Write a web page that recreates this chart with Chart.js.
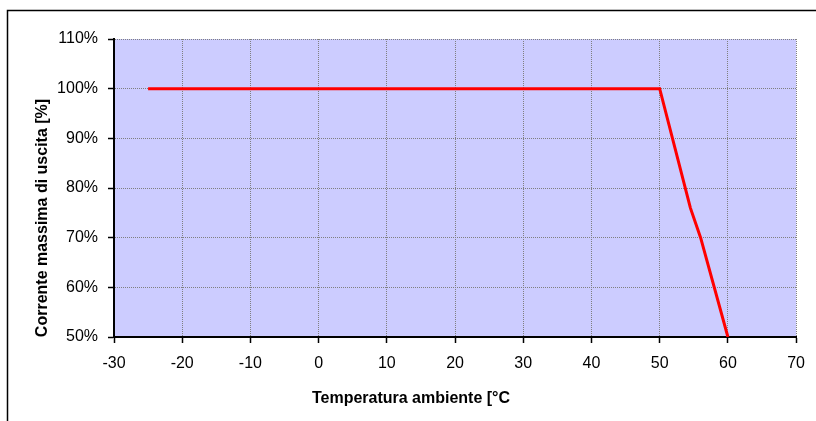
<!DOCTYPE html>
<html>
<head>
<meta charset="utf-8">
<script src="https://cdn.jsdelivr.net/npm/chart.js@4"></script>
<style>
    html, body { margin: 0; padding: 0; background: #ffffff; }
    #wrap { width: 816px; height: 421px; }
</style>
</head>
<body>
<div id="wrap"><canvas id="derating"></canvas></div>
<script>
// Derating curve: ambient temperature vs max output current
const temperature = [-25, 50, 54.5, 56, 60];
const currentPct = [100, 100, 76, 70, 50];
const xTickValues = [-30, -20, -10, 0, 10, 20, 30, 40, 50, 60, 70];
const yTickValues = [50, 60, 70, 80, 90, 100, 110];
const xTitle = "Temperatura ambiente [°C";
const yTitle = "Corrente massima di uscita [%]";

const FONT = "'Liberation Sans', Arial, sans-serif";

// frame, plot background and axis titles
const decorations = {
    id: "decorations",
    beforeDraw(chart) {
        const { ctx, chartArea } = chart;
        ctx.save();
        ctx.fillStyle = "#ccccff";
        ctx.fillRect(chartArea.left, chartArea.top, chartArea.right - chartArea.left, chartArea.bottom - chartArea.top);
        ctx.strokeStyle = "#000000";
        ctx.lineWidth = 1.5;
        ctx.strokeRect(7.5, 10.5, 1000, 1000);
        ctx.restore();
    },
    afterDraw(chart) {
        const { ctx } = chart;
        ctx.save();
        ctx.fillStyle = "#000000";
        ctx.textAlign = "center";
        ctx.textBaseline = "alphabetic";
        ctx.font = "bold 16px " + FONT;
        ctx.fillText(xTitle, 411, 403);

        ctx.translate(47, 218);
        ctx.rotate(-Math.PI / 2);
        ctx.font = "bold 16px " + FONT;
        ctx.fillText(yTitle, 0, 0);
        ctx.restore();
    }
};

new Chart(document.getElementById("derating"), {
    type: "line",
    data: {
        datasets: [{
            data: temperature.map((t, i) => ({ x: t, y: currentPct[i] })),
            borderColor: "#ff0000",
            borderWidth: 3,
            pointRadius: 0,
            tension: 0,
            fill: false
        }]
    },
    options: {
        responsive: true,
        maintainAspectRatio: false,
        animation: false,
        layout: { padding: { left: 0, top: 39, right: 19, bottom: 0 } },
        plugins: {
            legend: { display: false },
            tooltip: { enabled: false }
        },
        scales: {
            x: {
                type: "linear",
                min: -30,
                max: 70,
                afterBuildTicks: scale => { scale.ticks = xTickValues.map(v => ({ value: v })); },
                afterFit: scale => { scale.height = 84; },
                ticks: {
                    color: "#000000",
                    font: { family: FONT, size: 16 },
                    padding: 11,
                    maxRotation: 0
                },
                grid: {
                    color: "#808080",
                    lineWidth: 1,
                    tickColor: "#000000",
                    tickLength: 6,
                    tickWidth: 1.5,
                    tickBorderDash: []
                },
                border: { color: "#000000", width: 2, dash: [1, 1] }
            },
            y: {
                type: "linear",
                min: 50,
                max: 110,
                afterBuildTicks: scale => { scale.ticks = yTickValues.map(v => ({ value: v })); },
                afterFit: scale => { scale.width = 114; },
                ticks: {
                    color: "#000000",
                    font: { family: FONT, size: 16 },
                    padding: 10,
                    callback: v => v + "%"
                },
                grid: {
                    color: "#808080",
                    lineWidth: 1,
                    tickColor: "#000000",
                    tickLength: 6,
                    tickWidth: 1.5,
                    tickBorderDash: []
                },
                border: { color: "#000000", width: 2, dash: [1, 1] }
            }
        }
    },
    plugins: [decorations]
});
</script>
</body>
</html>
